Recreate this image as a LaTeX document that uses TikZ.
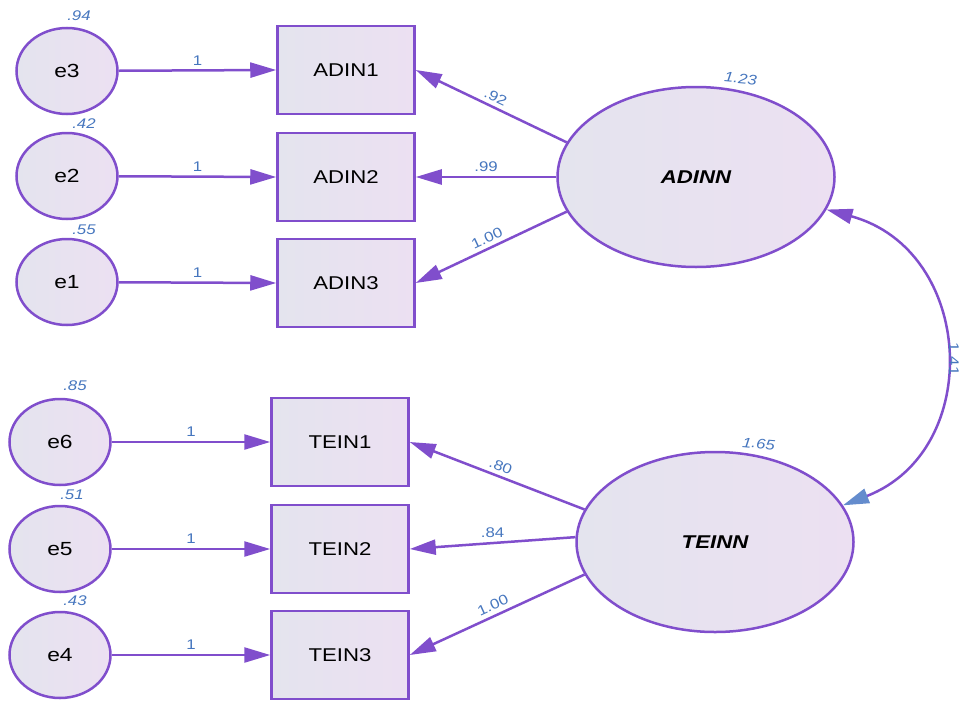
\documentclass[tikz,border=0pt]{standalone}
\usepackage{fontspec}
\setmainfont{Liberation Sans}
\newfontfamily\semfont[FakeStretch=1.2]{Liberation Sans}
\usepackage{tikz}
\usetikzlibrary{arrows.meta,positioning,calc,shapes.geometric}
\definecolor{PathPurple}{RGB}{128,78,204}
\definecolor{CovBlue}{RGB}{100,140,205}
\definecolor{LabelBlue}{RGB}{70,118,190}
\definecolor{FillLeft}{RGB}{228,228,238}
\definecolor{FillRight}{RGB}{236,224,242}

\tikzset{
  obsbox/.style={draw=PathPurple,line width=2.5pt,left color=FillLeft,right color=FillRight,
    minimum width=137pt,minimum height=88pt,font=\semfont\fontsize{18.5}{20}\selectfont},
  errnode/.style={ellipse,draw=PathPurple,line width=2.5pt,left color=FillLeft,right color=FillRight,
    minimum width=101pt,minimum height=86pt,font=\semfont\fontsize{19}{21}\selectfont},
  latnode/.style={ellipse,draw=PathPurple,line width=2.5pt,left color=FillLeft,right color=FillRight,
    minimum width=277pt,minimum height=180pt,font=\semfont\fontsize{18.5}{20}\selectfont\bfseries\itshape},
  regpath/.style={draw=PathPurple,line width=2.5pt,-{Triangle[length=26pt,width=15pt]}},
  coeflab/.style={font=\semfont\fontsize{14}{16}\selectfont,text=LabelBlue,inner sep=4pt},
  varlab/.style={font=\semfont\fontsize{14}{16}\selectfont\itshape,text=LabelBlue,inner sep=2pt}
}

\begin{document}
\begin{tikzpicture}[x=1pt,y=-1pt,>=Latex]
  \useasboundingbox (0,0) rectangle (965,701);
  % latent variables
  \node[latnode,label={[varlab,xshift=44pt,rotate=-5]above:1.23}] (adinn) at (696,177) {ADINN};
  \node[latnode,label={[varlab,xshift=43pt,rotate=-5]above:1.65}] (teinn) at (715,542) {TEINN};
  % indicators
  \node[obsbox] (adin1) at (346,70) {ADIN1};
  \node[obsbox] (adin2) at (346,177) {ADIN2};
  \node[obsbox] (adin3) at (346,283) {ADIN3};
  \node[obsbox] (tein1) at (340,442) {TEIN1};
  \node[obsbox] (tein2) at (340,549) {TEIN2};
  \node[obsbox] (tein3) at (340,655) {TEIN3};
  % error terms
  \node[errnode,label={[varlab,xshift=12pt,yshift=4pt]above:.94}] (e3) at (67,71) {e3};
  \node[errnode,label={[varlab,xshift=17pt,yshift=1pt]above:.42}] (e2) at (67,176) {e2};
  \node[errnode,label={[varlab,xshift=17pt,yshift=1pt]above:.55}] (e1) at (67,282) {e1};
  \node[errnode,label={[varlab,xshift=15pt,yshift=5pt]above:.85}] (e6) at (60,442) {e6};
  \node[errnode,label={[varlab,xshift=12pt,yshift=3pt]above:.51}] (e5) at (60,549) {e5};
  \node[errnode,label={[varlab,xshift=15pt,yshift=3pt]above:.43}] (e4) at (60,655) {e4};

  % error paths
  \foreach \e/\o in {e3/adin1,e2/adin2,e1/adin3,e6/tein1,e5/tein2,e4/tein3}
    \draw[regpath] (\e) -- node[coeflab,above] {1} (\o.west);

  % loadings
  \draw[regpath] (adinn.165) -- node[coeflab,above,sloped] {.92} (adin1.east);
  \draw[regpath] (adinn.180) -- node[coeflab,above] {.99} (adin2.east);
  \draw[regpath] (adinn.195) -- node[coeflab,above,sloped] {1.00} (adin3.east);
  \draw[regpath] (teinn.166) -- node[coeflab,above,sloped] {.80} (tein1.east);
  \draw[regpath] (teinn.178) -- node[coeflab,above] {.84} (tein2.east);
  \draw[regpath] (teinn.194) -- node[coeflab,above,sloped] {1.00} (tein3.east);

  % covariance
  \draw[line width=2.5pt,draw=PathPurple,
        {Triangle[length=26pt,width=15pt]}-{Triangle[length=26pt,width=15pt,color=CovBlue]}]
    (adinn.-14) .. controls (975,250) and (985,450) .. (teinn.16)
    node[pos=0.52,coeflab,rotate=-90,anchor=south] {1.41};
\end{tikzpicture}
\end{document}
